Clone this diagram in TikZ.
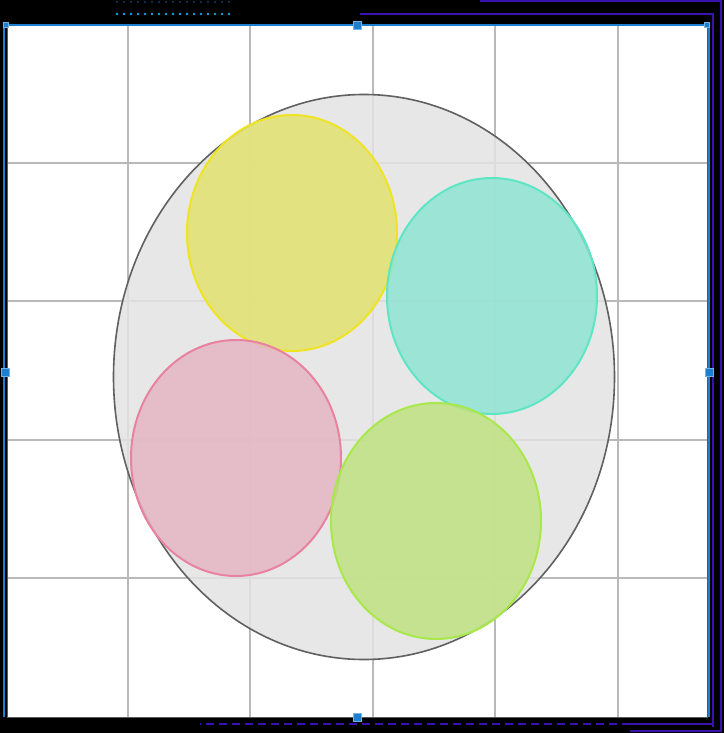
\documentclass[tikz,border=0pt]{standalone}
\usetikzlibrary{shapes.geometric}
\definecolor{selblue}{HTML}{1E7FD0}
\definecolor{framepurple}{HTML}{3A10B0}
\tikzset{
  blob/.style={ellipse, draw, line width=2pt, minimum width=210pt, minimum height=236pt, fill opacity=0.85, inner sep=0pt},
  handle/.style={fill=selblue, draw=selblue!60!white, minimum size=8pt, inner sep=0pt}
}
\begin{document}
\begin{tikzpicture}[x=1pt, y=-1pt]
    % Background and canvas
    \fill[black] (0,0) rectangle (724,733);
    \useasboundingbox (0,0) rectangle (724,733);
    \fill[white] (7,25) rectangle (707,717);

    % Grid
    \foreach \x in {128,250,373,495,618} {
        \draw[gray!55, line width=1.4pt] (\x,25) -- (\x,717);
    }
    \foreach \y in {163,301,440,578} {
        \draw[gray!55, line width=1.4pt] (7,\y) -- (707,\y);
    }

    % Outer ellipse
    \node[ellipse, draw=gray!75!black, line width=1.6pt, fill=gray!22, fill opacity=0.85,
          minimum width=501pt, minimum height=565pt, inner sep=0pt] (body) at (364,377) {};

    % Inner circles
    \node[blob, draw=yellow!85!gray, fill={rgb,255:red,227;green,226;blue,111}] (yellowc) at (292,233) {};
    \node[blob, draw={rgb,255:red,94;green,230;blue,196}, fill={rgb,255:red,144;green,228;blue,210}] (cyanc) at (492,296) {};
    \node[blob, draw={rgb,255:red,232;green,130;blue,160}, fill={rgb,255:red,228;green,182;blue,196}] (pinkc) at (236,458) {};
    \node[blob, draw={rgb,255:red,168;green,232;blue,74}, fill={rgb,255:red,192;green,226;blue,130}] (greenc) at (436,521) {};

    % Selection frame
    \draw[gray!70!black, line width=1pt] (7,25) rectangle (707,717);
    \draw[selblue, line width=2pt] (8,25) -- (706,25);
    \draw[selblue, line width=2pt] (4,25) -- (4,717);
    \draw[selblue, line width=1.5pt] (709,28) -- (709,717);

    % Outer purple frame
    \draw[framepurple, line width=1.5pt] (360,14) -- (713,14) -- (713,727);
    \draw[framepurple, line width=1.5pt] (480,1) -- (721,1) -- (721,731) -- (630,731);
    \draw[framepurple, line width=1.5pt, dash pattern=on 8pt off 5pt] (630,724) -- (200,724);
    \draw[framepurple, line width=1.5pt] (713,724) -- (630,724);

    % Handles
    \node[handle] (htop) at (357,25) {};
    \node[handle] (hleft) at (5,372) {};
    \node[handle] (hright) at (709,372) {};
    \node[handle] (hbottom) at (357,717) {};
    \node[handle, minimum size=5pt] (htl) at (6,25) {};
    \node[handle, minimum size=5pt] (htr) at (707,25) {};

    % Dotted caption marks
    \foreach \x in {117,124,...,232} {
        \fill[selblue!70!cyan] (\x,14) circle (1.4pt);
        \fill[selblue!50!black] (\x,2) circle (1.2pt);
    }
\end{tikzpicture}
\end{document}
